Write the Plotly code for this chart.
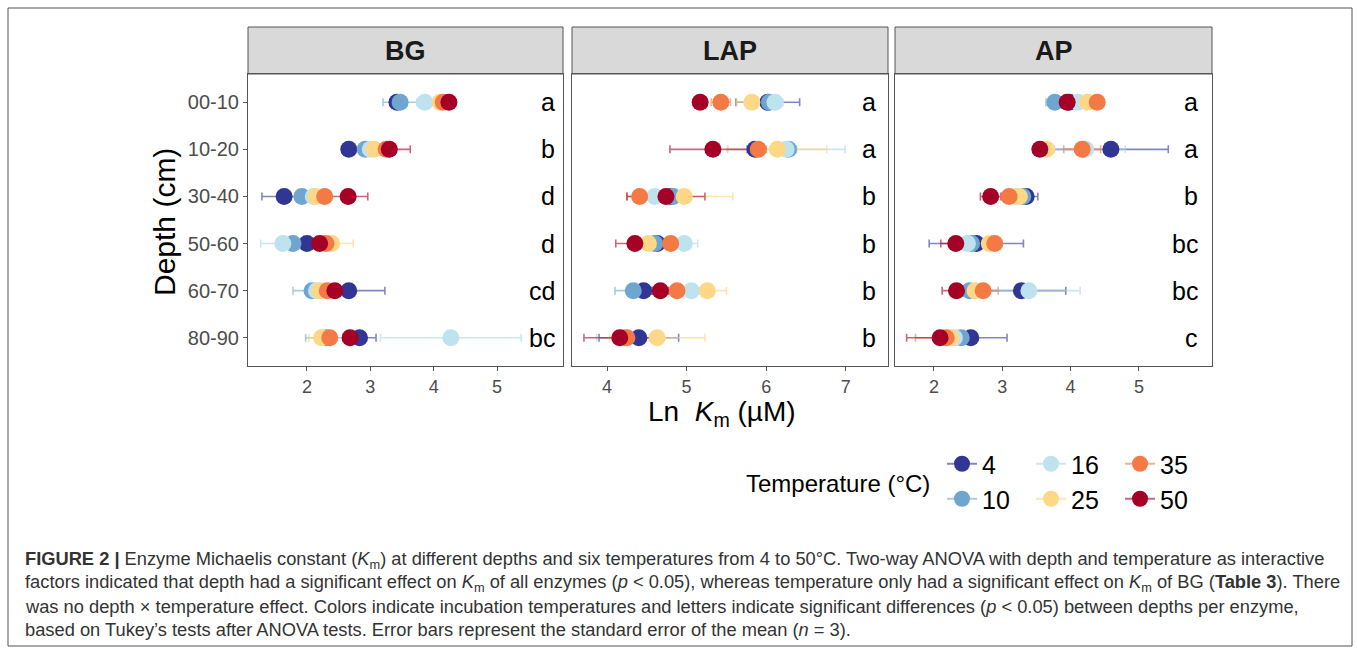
import plotly.graph_objects as go

# Depth layers (top to bottom) and incubation temperatures
depths = ["00-10", "10-20", "30-40", "50-60", "60-70", "80-90"]
temps = [4, 10, 16, 25, 35, 50]
temp_colors = {4: "#313695", 10: "#6fa6d0", 16: "#bfe3ee", 25: "#fed886", 35: "#f47a45", 50: "#a50026"}
temp_err_colors = {4: "rgba(49,54,149,0.6)", 10: "rgba(111,166,208,0.6)", 16: "rgba(170,215,232,0.6)",
                   25: "rgba(253,210,120,0.6)", 35: "rgba(244,122,69,0.6)", 50: "rgba(165,0,38,0.6)"}

# Ln Km means per temperature (depth order as above)
bg_mean = {4: [3.42, 2.66, 1.64, 2.00, 2.66, 2.83],
           10: [3.47, 2.92, 1.92, 1.78, 2.08, 2.30],
           16: [3.86, 3.00, 2.10, 1.62, 2.15, 4.27],
           25: [4.10, 3.06, 2.14, 2.39, 2.20, 2.23],
           35: [4.15, 3.25, 2.28, 2.30, 2.32, 2.36],
           50: [4.24, 3.30, 2.65, 2.20, 2.44, 2.68]}
bg_se = {4: [0.10, 0.10, 0.35, 0.10, 0.57, 0.26],
         10: [0.27, 0.10, 0.10, 0.10, 0.30, 0.32],
         16: [0.08, 0.08, 0.10, 0.35, 0.10, 1.11],
         25: [0.08, 0.10, 0.10, 0.34, 0.10, 0.20],
         35: [0.05, 0.10, 0.10, 0.10, 0.10, 0.10],
         50: [0.05, 0.33, 0.31, 0.10, 0.10, 0.10]}

lap_mean = {4: [6.02, 5.86, 4.80, 4.63, 4.46, 4.40],
            10: [6.04, 6.28, 4.83, 4.60, 4.33, 4.22],
            16: [6.11, 6.25, 4.60, 4.97, 5.06, 4.20],
            25: [5.82, 6.14, 4.97, 4.52, 5.26, 4.63],
            35: [5.43, 5.90, 4.41, 4.80, 4.88, 4.25],
            50: [5.17, 5.33, 4.74, 4.35, 4.67, 4.16]}
lap_se = {4: [0.40, 0.10, 0.10, 0.10, 0.10, 0.50],
          10: [0.10, 0.10, 0.10, 0.10, 0.23, 0.10],
          16: [0.10, 0.74, 0.10, 0.17, 0.10, 0.33],
          25: [0.19, 0.62, 0.61, 0.10, 0.24, 0.60],
          35: [0.12, 0.10, 0.16, 0.10, 0.10, 0.10],
          50: [0.05, 0.54, 0.49, 0.24, 0.10, 0.45]}

ap_mean = {4: [3.98, 4.59, 3.35, 2.62, 3.28, 2.54],
           10: [3.77, 4.20, 3.30, 2.55, 2.52, 2.40],
           16: [4.11, 4.22, 3.20, 2.49, 3.39, 2.30],
           25: [4.25, 3.65, 3.25, 2.81, 2.60, 2.25],
           35: [4.39, 4.17, 3.10, 2.89, 2.72, 2.18],
           50: [3.95, 3.55, 2.83, 2.32, 2.33, 2.09]}
ap_se = {4: [0.10, 0.84, 0.17, 0.69, 0.65, 0.53],
         10: [0.13, 0.10, 0.10, 0.10, 0.10, 0.10],
         16: [0.10, 0.58, 0.10, 0.10, 0.75, 0.10],
         25: [0.10, 0.08, 0.10, 0.10, 0.10, 0.10],
         35: [0.05, 0.27, 0.10, 0.10, 0.22, 0.45],
         50: [0.05, 0.05, 0.15, 0.22, 0.21, 0.49]}

# Tukey letters per depth
bg_letters = ["a", "b", "d", "d", "cd", "bc"]
lap_letters = ["a", "a", "b", "b", "b", "b"]
ap_letters = ["a", "a", "b", "bc", "bc", "c"]

panels = [
    ("BG", bg_mean, bg_se, bg_letters, "x", "y", [1.07, 6.04], [2, 3, 4, 5], 5.95),
    ("LAP", lap_mean, lap_se, lap_letters, "x2", "y2", [3.56, 7.53], [4, 5, 6, 7], 7.40),
    ("AP", ap_mean, ap_se, ap_letters, "x3", "y3", [1.43, 6.07], [2, 3, 4, 5], 5.89),
]

W, H = 1357, 654
def px_x(v):
    return v / W
def px_y(v):
    return 1 - v / H

x_domains = [[248, 563], [572, 888], [895, 1212]]
y_top, y_bot, strip_top = 74, 366, 27

fig = go.Figure()

for name, means, ses, letters, xa, ya, xr, xt, letter_x in panels:
    # error bars first so that every point sits above them
    for t in temps:
        fig.add_trace(go.Scatter(
            x=means[t], y=depths, xaxis=xa, yaxis=ya, mode="markers",
            marker=dict(size=1, opacity=0),
            error_x=dict(type="data", array=ses[t], symmetric=True,
                         color=temp_err_colors[t], thickness=1.6, width=4),
            showlegend=False, hoverinfo="skip"))
    for t in temps:
        fig.add_trace(go.Scatter(
            x=means[t], y=depths, xaxis=xa, yaxis=ya, mode="markers",
            marker=dict(size=17, color=temp_colors[t], line=dict(width=0)),
            showlegend=False, name=f"{t}"))
    for d, lab in zip(depths, letters):
        fig.add_annotation(x=letter_x, y=d, xref=xa, yref=ya, text=lab,
                           showarrow=False, xanchor="right", yanchor="middle",
                           font=dict(size=25, color="#000000"))

# legend entries: two rows of three
for i, t in enumerate([4, 16, 35, 10, 25, 50]):
    fig.add_trace(go.Scatter(
        x=[None], y=[None], mode="lines+markers", name=str(t),
        marker=dict(size=17, color=temp_colors[t]),
        line=dict(color=temp_err_colors[t], width=2),
        legend="legend" if i < 3 else "legend2"))

axis_common = dict(showgrid=False, zeroline=False, showline=True, mirror=True,
                   linecolor="#555555", linewidth=1, ticks="outside", ticklen=4,
                   tickcolor="#555555", tickfont=dict(size=18, color="#4d4d4d"))

layout = dict(width=W, height=H, margin=dict(l=0, r=0, t=0, b=0),
              paper_bgcolor="white", plot_bgcolor="white",
              font=dict(family="Liberation Sans, Arial, sans-serif", color="#000000"))

for k, (name, means, ses, letters, xa, ya, xr, xt, letter_x) in enumerate(panels):
    sfx = "" if k == 0 else str(k + 1)
    layout["xaxis" + sfx] = dict(axis_common, domain=[px_x(x_domains[k][0]), px_x(x_domains[k][1])],
                                 range=xr, tickvals=xt, anchor="y" + sfx)
    yax = dict(axis_common, domain=[px_y(y_bot), px_y(y_top)], type="category",
               categoryorder="array", categoryarray=depths, range=[5.6, -0.6],
               anchor="x" + sfx, tickfont=dict(size=20, color="#4d4d4d"))
    if k > 0:
        yax.update(showticklabels=False, ticks="")
    layout["yaxis" + sfx] = yax

legend_common = dict(orientation="h", xanchor="left", yanchor="top",
                     entrywidth=44, entrywidthmode="pixels", font=dict(size=25, color="#000000"),
                     bgcolor="rgba(0,0,0,0)")
layout["legend"] = dict(legend_common, x=px_x(942), y=px_y(441))
layout["legend2"] = dict(legend_common, x=px_x(942), y=px_y(476))
fig.update_layout(**layout)

shapes = []
annotations = []
# strip headers
for k, (name, *_rest) in enumerate(panels):
    x0, x1 = x_domains[k]
    shapes.append(dict(type="rect", xref="paper", yref="paper",
                       x0=px_x(x0), x1=px_x(x1), y0=px_y(y_top), y1=px_y(strip_top),
                       fillcolor="#d9d9d9", line=dict(color="#555555", width=1), layer="below"))
    annotations.append(dict(xref="paper", yref="paper", x=px_x((x0 + x1) / 2), y=px_y((y_top + strip_top) / 2),
                            xanchor="center", yanchor="middle",
                            text=f"<b>{name}</b>", showarrow=False,
                            font=dict(size=27, color="#1a1a1a")))

# outer frame
shapes.append(dict(type="rect", xref="paper", yref="paper", x0=px_x(8), x1=px_x(1352),
                   y0=px_y(646), y1=px_y(8), line=dict(color="#555555", width=1)))

# axis titles
annotations.append(dict(xref="paper", yref="paper", x=px_x(722), y=px_y(413),
                        xanchor="center", yanchor="middle",
                        text="Ln  <i>K</i><sub>m</sub> (µM)", showarrow=False,
                        font=dict(size=28, color="#000000")))
annotations.append(dict(xref="paper", yref="paper", x=px_x(165), y=px_y(222),
                        xanchor="center", yanchor="middle",
                        text="Depth (cm)", textangle=-90, showarrow=False,
                        font=dict(size=30, color="#000000")))
annotations.append(dict(xref="paper", yref="paper", x=px_x(838), y=px_y(483),
                        xanchor="center", yanchor="middle",
                        text="Temperature (°C)", showarrow=False,
                        font=dict(size=24, color="#000000")))

# caption
caption = [
    "<b>FIGURE 2 |</b> Enzyme Michaelis constant (<i>K</i><sub>m</sub>) at different depths and six temperatures from 4 to 50°C. Two-way ANOVA with depth and temperature as interactive",
    "factors indicated that depth had a significant effect on <i>K</i><sub>m</sub> of all enzymes (<i>p</i> &lt; 0.05), whereas temperature only had a significant effect on <i>K</i><sub>m</sub> of BG (<b>Table 3</b>). There",
    "was no depth × temperature effect. Colors indicate incubation temperatures and letters indicate significant differences (<i>p</i> &lt; 0.05) between depths per enzyme,",
    "based on Tukey’s tests after ANOVA tests. Error bars represent the standard error of the mean (<i>n</i> = 3).",
]
for i, line in enumerate(caption):
    annotations.append(dict(xref="paper", yref="paper", x=px_x(23), y=px_y(560 + i * 23.3),
                            text=line, showarrow=False, xanchor="left", yanchor="middle",
                            font=dict(size=18.3, color="#333333")))

fig.update_layout(shapes=shapes, annotations=list(fig.layout.annotations) + annotations)
fig.write_html("out.html")
